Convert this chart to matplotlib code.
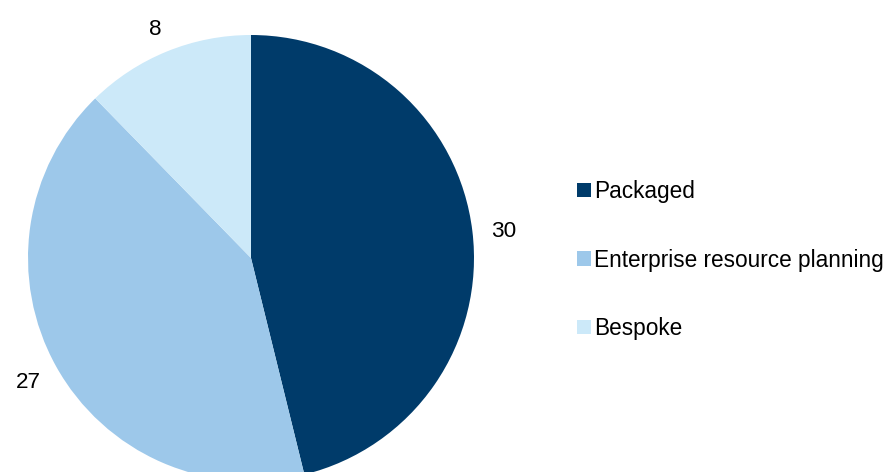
import numpy as np
import matplotlib.pyplot as plt

plt.rcParams['font.family'] = ['Liberation Sans', 'DejaVu Sans']

labels = ['Packaged', 'Enterprise resource planning', 'Bespoke']
values = [30, 27, 8]
colors = ['#003B6A', '#9DC8EA', '#CCE9F9']

fig = plt.figure(figsize=(8.84, 4.72), dpi=100)
# pie axes, slightly running off the bottom edge like the original
ax = fig.add_axes([28 / 884, -9 / 472, 446 / 884, 446 / 472])

wedges, texts = ax.pie(values, colors=colors, startangle=90, counterclock=False,
                       radius=1, wedgeprops={'linewidth': 0})
for w, v in zip(wedges, values):
    ang = np.deg2rad((w.theta1 + w.theta2) / 2)
    ax.text(1.14 * np.cos(ang), 1.12 * np.sin(ang) - 0.014, str(v),
            ha='center', va='center', fontsize=16.2, color='#000000')
ax.set_xlim(-1, 1)
ax.set_ylim(-1, 1)
ax.set_aspect('equal')
ax.axis('off')

fig.legend(wedges, labels, loc='center left', bbox_to_anchor=(577 / 884, 1 - 260 / 472),
           frameon=False, fontsize=16.3, borderpad=0, borderaxespad=0,
           handlelength=0.6, handleheight=0.6, handletextpad=0.15, labelspacing=2.02)

fig.savefig('out.png', dpi=100)
